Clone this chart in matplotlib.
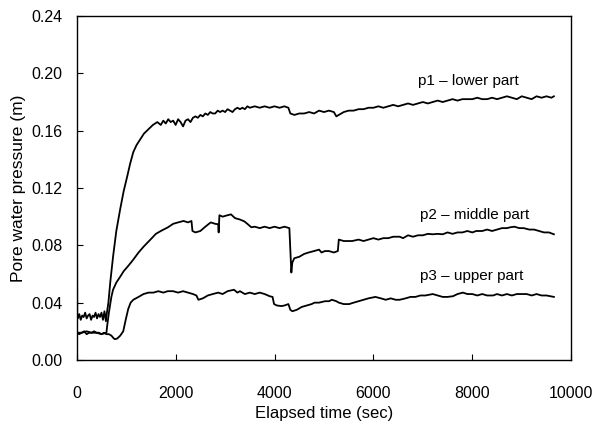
"""
Pore water pressure vs elapsed time for three piezometers.
"""

import numpy as np
import matplotlib
matplotlib.use("Agg")
import matplotlib.pyplot as plt

plt.rcParams["font.family"] = ["Liberation Sans", "DejaVu Sans"]

# p1 - lower part
p1_t = [0, 10, 20, 50, 80, 110, 140, 170, 200, 230, 260, 290, 320, 350, 380, 410,
        440, 470, 500, 530, 560, 590, 610,
        640, 680, 734, 800, 877, 950, 1020, 1080, 1143, 1210, 1285, 1360, 1450,
        1540, 1630,
        1700, 1750, 1800, 1850, 1900, 1950, 2000, 2050, 2100, 2150, 2200, 2250,
        2300, 2350, 2400, 2450, 2500, 2550, 2600, 2650, 2700, 2750, 2800, 2850,
        2900, 2950, 3000, 3050, 3100, 3150, 3200, 3250, 3300, 3350, 3400, 3450,
        3500, 3600, 3700, 3800, 3900, 4000, 4100, 4200, 4280, 4320, 4400, 4500,
        4600, 4700, 4800, 4900, 5000, 5100, 5200, 5250, 5300, 5400, 5500, 5600,
        5700, 5800, 5900, 6000, 6100, 6200, 6300, 6400, 6500, 6600, 6700, 6800,
        6900, 7000, 7100, 7200, 7300, 7400, 7500, 7600, 7700, 7800, 7900, 8000,
        8100, 8200, 8300, 8400, 8500, 8600, 8700, 8800, 8900, 9000, 9100, 9200,
        9300, 9400, 9500, 9600, 9650]
p1_v = [0.168, 0.030, 0.029, 0.032, 0.028, 0.031, 0.030, 0.033, 0.029, 0.031,
        0.032, 0.028, 0.031, 0.030, 0.033, 0.029, 0.032, 0.030, 0.033, 0.028,
        0.034, 0.027, 0.033,
        0.040, 0.055, 0.072, 0.090, 0.105, 0.118, 0.128, 0.137, 0.145, 0.150,
        0.154, 0.158, 0.161, 0.164, 0.166,
        0.164, 0.167, 0.165, 0.168, 0.166, 0.167, 0.164, 0.168, 0.166, 0.163,
        0.167, 0.168, 0.166, 0.169, 0.170, 0.169, 0.171, 0.170, 0.172, 0.171,
        0.173, 0.172, 0.172, 0.174, 0.173, 0.174, 0.173, 0.175, 0.174, 0.173,
        0.175, 0.176, 0.175, 0.176, 0.175, 0.177, 0.176, 0.177, 0.176, 0.177,
        0.176, 0.177, 0.176, 0.177, 0.176, 0.172, 0.171, 0.172, 0.172, 0.173,
        0.172, 0.174, 0.173, 0.174, 0.173, 0.170, 0.171, 0.173, 0.174, 0.174,
        0.175, 0.175, 0.176, 0.176, 0.177, 0.176, 0.177, 0.178, 0.177, 0.178,
        0.179, 0.178, 0.179, 0.180, 0.179, 0.180, 0.181, 0.180, 0.181, 0.182,
        0.181, 0.182, 0.182, 0.182, 0.183, 0.182, 0.182, 0.183, 0.182, 0.183,
        0.184, 0.183, 0.182, 0.184, 0.183, 0.182, 0.184, 0.183, 0.184, 0.183,
        0.184]

# p2 - middle part
p2_t = [0, 100, 200, 300, 400, 500, 600, 612, 650, 700, 734, 800, 877, 950, 1050,
        1143, 1250, 1350, 1490, 1600, 1700, 1840, 1950, 2050, 2160, 2250, 2320,
        2340, 2400, 2500, 2600, 2710, 2800, 2860, 2870, 2885, 2950, 3050, 3120,
        3200, 3300, 3390, 3450, 3530, 3600, 3700, 3800, 3900, 4000, 4100, 4200,
        4300, 4340, 4360, 4400, 4500, 4600, 4690, 4800, 4900, 4950, 5020, 5100,
        5200, 5280, 5300, 5400, 5500, 5570, 5700, 5800, 5900, 6000, 6100, 6200,
        6300, 6400, 6530, 6600, 6700, 6800, 6900, 7000, 7100, 7200, 7300, 7400,
        7500, 7600, 7700, 7800, 7900, 8000, 8080, 8200, 8300, 8400, 8500, 8600,
        8700, 8770, 8850, 8950, 9040, 9150, 9250, 9350, 9450, 9550, 9650]
p2_v = [0.019, 0.019, 0.020, 0.019, 0.019, 0.018, 0.019, 0.023, 0.033, 0.044,
        0.049, 0.054, 0.058, 0.062, 0.066, 0.070, 0.075, 0.079, 0.084, 0.088,
        0.090, 0.0925, 0.095, 0.096, 0.097, 0.096, 0.097, 0.090, 0.089, 0.090,
        0.093, 0.096, 0.095, 0.0947, 0.089, 0.101, 0.100, 0.101, 0.1016, 0.099,
        0.098, 0.0967, 0.095, 0.0926, 0.093, 0.092, 0.093, 0.092, 0.093, 0.092,
        0.093, 0.092, 0.061, 0.068, 0.071, 0.072, 0.074, 0.075, 0.076, 0.077,
        0.075, 0.076, 0.076, 0.075, 0.076, 0.084, 0.083, 0.083, 0.083, 0.084,
        0.083, 0.084, 0.085, 0.084, 0.085, 0.085, 0.086, 0.086, 0.085, 0.087,
        0.086, 0.087, 0.087, 0.088, 0.0877, 0.088, 0.0877, 0.089, 0.088, 0.089,
        0.089, 0.090, 0.089, 0.090, 0.090, 0.091, 0.090, 0.091, 0.092, 0.092,
        0.0926, 0.093, 0.092, 0.092, 0.091, 0.091, 0.090, 0.089, 0.089, 0.0877]

# p3 - upper part
p3_t = [0, 50, 100, 150, 200, 250, 300, 350, 400, 450, 500, 550, 600, 650, 700,
        750, 775, 820, 880, 940, 990, 1040, 1090, 1143, 1250, 1350, 1450, 1550,
        1650, 1750, 1840, 1950, 2050, 2150, 2250, 2350, 2420, 2460, 2550, 2650,
        2750, 2860, 2950, 3050, 3180, 3250, 3300, 3400, 3500, 3600, 3700, 3800,
        3900, 3960, 3990, 4050, 4140, 4200, 4280, 4320, 4360, 4450, 4550, 4650,
        4750, 4810, 4900, 5020, 5100, 5160, 5250, 5300, 5400, 5510, 5600, 5700,
        5800, 5900, 6040, 6150, 6250, 6350, 6450, 6530, 6650, 6750, 6850, 6950,
        7050, 7200, 7300, 7400, 7500, 7610, 7700, 7810, 7900, 8000, 8100, 8200,
        8300, 8420, 8500, 8600, 8700, 8800, 8900, 9000, 9100, 9200, 9300, 9400,
        9500, 9650]
p3_v = [0.019, 0.018, 0.019, 0.020, 0.018, 0.019, 0.019, 0.020, 0.019, 0.019,
        0.018, 0.019, 0.018, 0.018, 0.017, 0.015, 0.0145, 0.015, 0.017, 0.020,
        0.028, 0.0355, 0.040, 0.042, 0.044, 0.046, 0.047, 0.047, 0.048, 0.047,
        0.048, 0.048, 0.047, 0.048, 0.047, 0.046, 0.045, 0.042, 0.043, 0.045,
        0.046, 0.047, 0.046, 0.048, 0.049, 0.047, 0.048, 0.046, 0.047, 0.046,
        0.047, 0.046, 0.0445, 0.044, 0.039, 0.038, 0.0376, 0.038, 0.039, 0.035,
        0.034, 0.035, 0.037, 0.038, 0.039, 0.040, 0.040, 0.041, 0.041, 0.042,
        0.041, 0.040, 0.039, 0.039, 0.040, 0.041, 0.042, 0.043, 0.044, 0.043,
        0.042, 0.043, 0.042, 0.042, 0.043, 0.044, 0.044, 0.045, 0.045, 0.046,
        0.045, 0.044, 0.044, 0.0445, 0.046, 0.047, 0.046, 0.046, 0.045, 0.046,
        0.045, 0.045, 0.046, 0.045, 0.046, 0.045, 0.046, 0.046, 0.046, 0.045,
        0.046, 0.045, 0.045, 0.044]

labels = ["p1 \u2013 lower part", "p2 \u2013 middle part", "p3 \u2013 upper part"]
label_pos = [(6900, 0.195), (6940, 0.1015), (6940, 0.0585)]

fig = plt.figure(figsize=(5.95, 4.22), dpi=100)
ax = fig.add_axes([0.129, 0.147, 0.831, 0.815])

for t, v in [(p1_t, p1_v), (p2_t, p2_v), (p3_t, p3_v)]:
    ax.plot(t, v, color="black", linewidth=1.3)

for lab, (x, y) in zip(labels, label_pos):
    ax.text(x, y, lab, fontsize=11, va="center", ha="left")

ax.set_xlim(0, 10000)
ax.set_ylim(0, 0.24)
ax.set_xticks(np.arange(0, 10001, 2000))
ax.set_yticks(np.arange(0, 0.241, 0.04))
ax.set_yticklabels([f"{v:.2f}" for v in np.arange(0, 0.241, 0.04)])
ax.tick_params(axis="x", direction="in", length=4, pad=19, labelsize=11.5)
ax.tick_params(axis="y", direction="in", length=4, pad=10, labelsize=11.5)

ax.set_xlabel("Elapsed time (sec)", fontsize=12, labelpad=3)
ax.set_ylabel("Pore water pressure (m)", fontsize=12.5, labelpad=4)

for s in ax.spines.values():
    s.set_linewidth(1.0)

fig.savefig("out.png", dpi=100)
